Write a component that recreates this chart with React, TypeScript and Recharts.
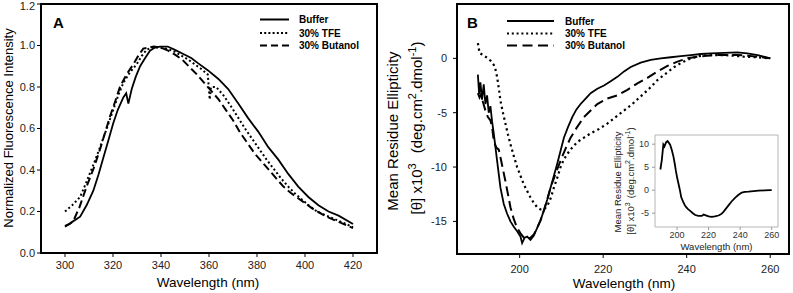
import React from 'react';
import { LineChart, Line, XAxis, YAxis, ReferenceArea, Legend, Label } from 'recharts';

const FONT = '"Liberation Sans", Arial, Helvetica, sans-serif';

// ---------- Panel A: fluorescence ----------
const fluorTicksX = [300, 320, 340, 360, 380, 400, 420];
const fluorTicksY = [0, 0.2, 0.4, 0.6, 0.8, 1.0, 1.2];

const fluorBufferNm = [300, 303, 306.3, 309, 311.8, 314, 316, 318, 320.1, 322, 324.3, 325.5, 326.4, 327.8, 329.5, 331.3, 333.4, 335.4, 337.5, 339.6, 342.8, 345.6, 349.1, 352.6, 355.4, 359.6, 363.8, 368, 372.2, 376.3, 380.5, 384.7, 388.9, 393.1, 397.2, 401.4, 405.6, 409.8, 414, 420];
const fluorBufferI = [0.127, 0.15, 0.175, 0.23, 0.3, 0.38, 0.46, 0.54, 0.625, 0.69, 0.75, 0.77, 0.72, 0.79, 0.85, 0.9, 0.94, 0.975, 0.99, 0.995, 0.995, 0.98, 0.96, 0.94, 0.915, 0.88, 0.84, 0.79, 0.72, 0.65, 0.585, 0.51, 0.45, 0.38, 0.32, 0.27, 0.23, 0.2, 0.18, 0.14];

const fluorTfeNm = [300, 303, 306.3, 308.5, 310.4, 312.5, 314.6, 317.4, 320.1, 322.2, 324.3, 327, 329.9, 332, 334, 336.5, 339, 342, 345, 348, 351, 354, 357, 359.5, 360.3, 360.8, 363, 366, 369, 372, 375, 378, 381, 384, 387, 390, 393, 396, 399, 402, 405, 408, 411, 414, 417, 420];
const fluorTfeI = [0.2, 0.23, 0.27, 0.33, 0.385, 0.445, 0.51, 0.6, 0.69, 0.76, 0.82, 0.87, 0.91, 0.95, 0.98, 0.99, 0.99, 0.985, 0.975, 0.955, 0.935, 0.91, 0.885, 0.86, 0.74, 0.8, 0.8, 0.76, 0.71, 0.655, 0.6, 0.55, 0.5, 0.45, 0.405, 0.36, 0.32, 0.285, 0.255, 0.225, 0.2, 0.185, 0.17, 0.155, 0.14, 0.125];

const fluorButanolNm = [300, 302, 303.5, 306, 309, 312, 314.6, 316.7, 318.8, 320.9, 322.9, 325.6, 328.5, 330.5, 332.6, 335, 337, 340, 343, 346, 349, 352, 355, 358, 361, 364, 367, 370, 373, 376, 379, 382, 385, 388, 391, 394, 397, 400, 403, 406, 409, 412, 415, 418, 420];
const fluorButanolI = [0.13, 0.14, 0.155, 0.22, 0.32, 0.41, 0.5, 0.58, 0.66, 0.73, 0.8, 0.86, 0.91, 0.95, 0.985, 0.99, 0.995, 0.99, 0.975, 0.955, 0.93, 0.895, 0.86, 0.82, 0.78, 0.74, 0.69, 0.64, 0.58, 0.53, 0.48, 0.44, 0.4, 0.36, 0.32, 0.29, 0.265, 0.24, 0.215, 0.195, 0.175, 0.16, 0.145, 0.13, 0.12];

// ---------- Panel B: CD ----------
const cdTicksX = [200, 220, 240, 260];
const cdTicksY = [5, 0, -5, -10, -15];

const cdBufferNm = [190.0, 190.3, 190.6, 191.0, 191.4, 191.8, 192.2, 192.6, 193.0, 193.4, 193.8, 194.6, 195.4, 196.2, 197.0, 197.8, 198.6, 199.4, 200.2, 200.6, 201.2, 201.8, 202.6, 203.4, 204.2, 205.0, 205.8, 206.6, 207.4, 208.2, 209.0, 209.8, 210.6, 211.6, 212.6, 213.6, 214.6, 215.8, 217.0, 218.6, 220.2, 221.8, 223.4, 225.0, 226.6, 229.0, 231.4, 233.8, 236.2, 238.6, 241.0, 243.4, 245.8, 249.0, 252.1, 254.5, 257.0, 260.0];
const cdBufferVal = [-1.5, -3.3, -2.2, -3.8, -2.4, -4.2, -3.4, -5.0, -4.4, -5.8, -6.9, -9.4, -11.9, -13.4, -14.3, -15.0, -15.5, -15.9, -16.4, -17.0, -16.5, -16.4, -16.7, -16.3, -15.6, -14.9, -14.0, -13.0, -11.9, -10.8, -9.7, -8.5, -7.3, -6.3, -5.4, -4.7, -4.2, -3.7, -3.2, -2.8, -2.5, -2.1, -1.7, -1.2, -0.8, -0.4, -0.15, 0.0, 0.1, 0.2, 0.3, 0.4, 0.45, 0.5, 0.55, 0.45, 0.3, 0.0];

const cdTfeNm = [190.0, 190.4, 191.0, 191.6, 192.4, 193.0, 193.8, 194.2, 194.6, 195.0, 195.4, 196.0, 196.6, 197.2, 197.8, 198.6, 199.4, 200.2, 201.0, 201.8, 202.6, 203.4, 204.2, 205.0, 205.8, 206.6, 207.4, 208.2, 209.0, 209.8, 210.6, 211.4, 212.6, 213.8, 215.4, 217.0, 219.0, 221.0, 223.0, 225.0, 227.0, 229.0, 231.0, 233.0, 235.0, 237.0, 239.0, 241.0, 243.0, 245.0, 247.0, 249.0, 251.0, 253.7, 257.0, 260.0];
const cdTfeVal = [1.4, 0.5, 0.35, 0.2, 0.0, -0.2, -0.6, -1.0, -1.7, -2.7, -3.9, -5.0, -6.0, -7.0, -7.9, -9.0, -10.0, -10.8, -11.6, -12.2, -12.8, -13.3, -13.7, -13.9, -13.9, -13.6, -12.9, -11.9, -11.0, -10.0, -9.3, -8.8, -8.2, -7.7, -7.3, -6.9, -6.5, -6.0, -5.4, -4.8, -4.2, -3.5, -2.8, -2.0, -1.4, -0.8, -0.35, 0.0, 0.2, 0.3, 0.3, 0.3, 0.25, 0.15, 0.1, 0.0];

const cdButanolNm = [190.0, 190.4, 190.8, 191.2, 191.8, 192.4, 193.0, 193.4, 193.8, 194.4, 195.0, 195.4, 196.0, 196.6, 197.2, 197.8, 198.6, 199.4, 200.2, 201.0, 201.8, 202.6, 203.4, 204.2, 205.0, 205.8, 206.6, 207.4, 208.6, 209.8, 211.0, 212.2, 213.8, 215.4, 217.0, 218.6, 221.0, 223.4, 225.8, 228.2, 230.6, 233.0, 235.4, 237.8, 240.2, 242.6, 245.0, 247.4, 249.8, 252.1, 254.5, 257.0, 260.0];
const cdButanolVal = [-3.2, -3.6, -3.3, -4.0, -4.8, -5.4, -5.7, -6.3, -7.6, -8.2, -8.4, -9.1, -10.2, -11.3, -12.5, -13.7, -14.8, -15.6, -16.1, -16.5, -16.6, -16.5, -16.2, -15.6, -14.9, -14.0, -13.0, -11.9, -10.6, -9.4, -8.3, -7.3, -6.3, -5.4, -4.8, -4.2, -3.7, -3.4, -2.9, -2.3, -1.8, -1.2, -0.7, -0.3, 0.0, 0.15, 0.25, 0.3, 0.3, 0.3, 0.25, 0.15, 0.0];

// ---------- Inset ----------
const insetTicksX = [200, 220, 240, 260];
const insetTicksY = [-5, 0, 5, 10];
const insetNm = [189.4, 190.3, 191.3, 192.0, 193.0, 194.0, 195.6, 196.7, 197.7, 198.5, 199.2, 200.0, 200.9, 201.8, 202.6, 203.8, 205.1, 206.6, 208.3, 210.0, 211.5, 213.5, 215.7, 216.8, 217.8, 220.0, 222.0, 224.0, 226.3, 228.0, 229.4, 231.0, 232.6, 234.7, 236.9, 239.0, 241.0, 243.0, 245.3, 248.5, 251.7, 255.5, 259.0, 260.0];
const insetVal = [4.5, 6.5, 9.9, 9.5, 10.4, 10.7, 9.9, 8.7, 7.3, 5.8, 4.3, 2.8, 1.4, 0.0, -1.5, -2.5, -3.4, -4.0, -4.5, -5.0, -5.4, -5.6, -5.6, -5.3, -5.4, -5.7, -5.8, -5.7, -5.5, -5.2, -4.7, -4.0, -3.3, -2.4, -1.6, -1.0, -0.5, -0.35, -0.3, -0.2, -0.1, -0.05, 0.0, 0.0];

const legendNames = ['Buffer', '30% TFE', '30% Butanol'];
const seriesDash = [undefined, '2 2.5', '8 4'];

const zip = (xs: number[], ys: number[]) => xs.map((x, i) => ({ x, y: ys[i] }));

const tickStyle = { fontSize: 11, fill: '#222', fontFamily: FONT };

type LegendProps = { letter: string; lx: number; lineX1: number; lineX2: number; textX: number; rows: number[]; w: number; legendDash: (string | undefined)[] };

const makeLegend = ({ letter, lx, lineX1, lineX2, textX, rows, w, legendDash }: LegendProps) => () => (
  <svg width={w} height={60} style={{ display: 'block' }}>
    <text x={lx} y={28} fontSize={15} fontWeight="bold" fontFamily={FONT} fill="#000">{letter}</text>
    {legendNames.map((n, i) => (
      <g key={n}>
        <line x1={lineX1} x2={lineX2} y1={rows[i]} y2={rows[i]} stroke="#000" strokeWidth={2} strokeDasharray={legendDash[i]} />
        <text x={textX} y={rows[i] + 3.5} fontSize={10} fontWeight="bold" fontFamily={FONT} fill="#000">{n}</text>
      </g>
    ))}
  </svg>
);

const legendA = makeLegend({ letter: 'A', lx: 53, lineX1: 260, lineX2: 289, textX: 299, rows: [19.5, 33, 45.5], w: 400, legendDash: [undefined, '2 2.2', '7 4'] });
const legendB = makeLegend({ letter: 'B', lx: 87, lineX1: 127, lineX2: 174, textX: 185, rows: [21, 33.5, 45.5], w: 413, legendDash: [undefined, '2 2.8', '10 5.5'] });

const yTitleA = () => (
  <text transform="rotate(-90, 13, 128)" x={13} y={128} textAnchor="middle" fontSize={13} fontFamily={FONT} fill="#000">
    Normalized Fluorescence Intensity
  </text>
);
const xTitleA = () => (
  <text x={208} y={287} textAnchor="middle" fontSize={13.5} fontFamily={FONT} fill="#000">Wavelength (nm)</text>
);

const yTitleB = () => (
  <g>
    <text transform="rotate(-90, 18, 131)" x={18} y={131} textAnchor="middle" fontSize={15} fontFamily={FONT} fill="#000">
      Mean Residue Ellipticity
    </text>
    <text transform="rotate(-90, 42, 128)" x={42} y={128} textAnchor="middle" fontSize={15} fontFamily={FONT} fill="#000">
      <tspan>[θ] x10</tspan>
      <tspan dy={-6} fontSize={11}>3</tspan>
      <tspan dy={6} dx={10}>(deg.cm</tspan>
      <tspan dy={-6} fontSize={11}>2</tspan>
      <tspan dy={6}>.dmol</tspan>
      <tspan dy={-6} fontSize={11}>-1</tspan>
      <tspan dy={6}>)</tspan>
    </text>
  </g>
);
const xTitleB = () => (
  <text x={244} y={288} textAnchor="middle" fontSize={13.5} fontFamily={FONT} fill="#000">Wavelength (nm)</text>
);

const yTitleInset = () => (
  <g>
    <text transform="rotate(-90, 31, 57)" x={31} y={57} textAnchor="middle" fontSize={9.5} fontFamily={FONT} fill="#222">
      Mean Residue Ellipticity
    </text>
    <text transform="rotate(-90, 44, 56)" x={44} y={56} textAnchor="middle" fontSize={9.5} fontFamily={FONT} fill="#222">
      <tspan>[θ] x10</tspan>
      <tspan dy={-4} fontSize={7}>3</tspan>
      <tspan dy={4} dx={4}>(deg.cm</tspan>
      <tspan dy={-4} fontSize={7}>2</tspan>
      <tspan dy={4}>.dmol</tspan>
      <tspan dy={-4} fontSize={7}>-1</tspan>
      <tspan dy={4}>)</tspan>
    </text>
  </g>
);
const xTitleInset = () => (
  <text x={126.5} y={125} textAnchor="middle" fontSize={9.5} fontFamily={FONT} fill="#222">Wavelength (nm)</text>
);

export default function App() {
  const aBuffer = zip(fluorBufferNm, fluorBufferI);
  const aTfe = zip(fluorTfeNm, fluorTfeI);
  const aBut = zip(fluorButanolNm, fluorButanolI);
  const bBuffer = zip(cdBufferNm, cdBufferVal);
  const bTfe = zip(cdTfeNm, cdTfeVal);
  const bBut = zip(cdButanolNm, cdButanolVal);
  const inset = zip(insetNm, insetVal);

  return (
    <div style={{ position: 'absolute', left: 0, top: 0, width: 793, height: 293, background: '#fff', fontFamily: FONT }}>
      {/* Panel A */}
      <div style={{ position: 'absolute', left: 0, top: 0 }}>
        <LineChart width={400} height={293} margin={{ top: 4, right: 23, bottom: 0, left: 1 }}>
          <XAxis type="number" dataKey="x" domain={[290, 430]} ticks={fluorTicksX} allowDataOverflow height={40}
            tick={tickStyle} tickSize={4} tickMargin={4} axisLine={false} tickLine={{ stroke: '#000' }}>
            <Label content={xTitleA} />
          </XAxis>
          <YAxis type="number" domain={[0, 1.2]} ticks={fluorTicksY} width={40} allowDataOverflow
            tickFormatter={(v: number) => v.toFixed(1)} tick={tickStyle} tickSize={4} tickMargin={2}
            axisLine={false} tickLine={{ stroke: '#000' }}>
            <Label content={yTitleA} />
          </YAxis>
          <ReferenceArea x1={290} x2={430} y1={0} y2={1.2} fill="#fff" fillOpacity={0} stroke="#000" strokeWidth={2} ifOverflow="visible" />
          <Line data={aBuffer} dataKey="y" name={legendNames[0]} stroke="#000" strokeWidth={1.8} dot={false} isAnimationActive={false} />
          <Line data={aTfe} dataKey="y" name={legendNames[1]} stroke="#000" strokeWidth={2} strokeDasharray={seriesDash[1]} dot={false} isAnimationActive={false} />
          <Line data={aBut} dataKey="y" name={legendNames[2]} stroke="#000" strokeWidth={2} strokeDasharray={seriesDash[2]} dot={false} isAnimationActive={false} />
          <Legend layout="horizontal" verticalAlign="middle" align="center" content={legendA}
            wrapperStyle={{ position: 'absolute', left: 0, top: 0, width: 400, height: 60 }} />
        </LineChart>
      </div>

      {/* Panel B */}
      <div style={{ position: 'absolute', left: 380, top: 0 }}>
        <LineChart width={413} height={293} margin={{ top: 4, right: 4, bottom: 0, left: 11 }}>
          <XAxis type="number" dataKey="x" domain={[185, 264.5]} ticks={cdTicksX} allowDataOverflow height={39}
            tick={tickStyle} tickSize={4} tickMargin={7} axisLine={false} tickLine={{ stroke: '#000' }}>
            <Label content={xTitleB} />
          </XAxis>
          <YAxis type="number" domain={[-18, 5]} ticks={cdTicksY} width={66} allowDataOverflow
            tick={tickStyle} tickSize={4} tickMargin={6} axisLine={false} tickLine={{ stroke: '#000' }}>
            <Label content={yTitleB} />
          </YAxis>
          <ReferenceArea x1={185} x2={264.5} y1={-18} y2={5} fill="#fff" fillOpacity={0} stroke="#000" strokeWidth={2} ifOverflow="visible" />
          <Line data={bBuffer} dataKey="y" name={legendNames[0]} stroke="#000" strokeWidth={1.8} dot={false} isAnimationActive={false} />
          <Line data={bTfe} dataKey="y" name={legendNames[1]} stroke="#000" strokeWidth={2.2} strokeDasharray="2.2 3.3" dot={false} isAnimationActive={false} />
          <Line data={bBut} dataKey="y" name={legendNames[2]} stroke="#000" strokeWidth={2} strokeDasharray="10 5" dot={false} isAnimationActive={false} />
          <Legend layout="horizontal" verticalAlign="middle" align="center" content={legendB}
            wrapperStyle={{ position: 'absolute', left: 0, top: 0, width: 413, height: 60 }} />
        </LineChart>
      </div>

      {/* Inset */}
      <div style={{ position: 'absolute', left: 590, top: 125 }}>
        <LineChart width={200} height={135} margin={{ top: 10, right: 12, bottom: 0, left: 0 }}>
          <XAxis type="number" dataKey="x" domain={[186, 264]} ticks={insetTicksX} allowDataOverflow height={33}
            tick={{ fontSize: 9, fill: '#333', fontFamily: FONT }} tickSize={3} tickMargin={2} axisLine={false} tickLine={{ stroke: '#999' }}>
            <Label content={xTitleInset} />
          </XAxis>
          <YAxis type="number" domain={[-8, 12]} ticks={insetTicksY} width={65} allowDataOverflow
            tick={{ fontSize: 9, fill: '#333', fontFamily: FONT }} tickSize={3} tickMargin={3} axisLine={false} tickLine={{ stroke: '#999' }}>
            <Label content={yTitleInset} />
          </YAxis>
          <ReferenceArea x1={186} x2={264} y1={-8} y2={12} fill="#fff" fillOpacity={0} stroke="#b5b5b5" strokeWidth={1} ifOverflow="visible" />
          <Line data={inset} dataKey="y" stroke="#000" strokeWidth={1.8} dot={false} isAnimationActive={false} />
        </LineChart>
      </div>
    </div>
  );
}
